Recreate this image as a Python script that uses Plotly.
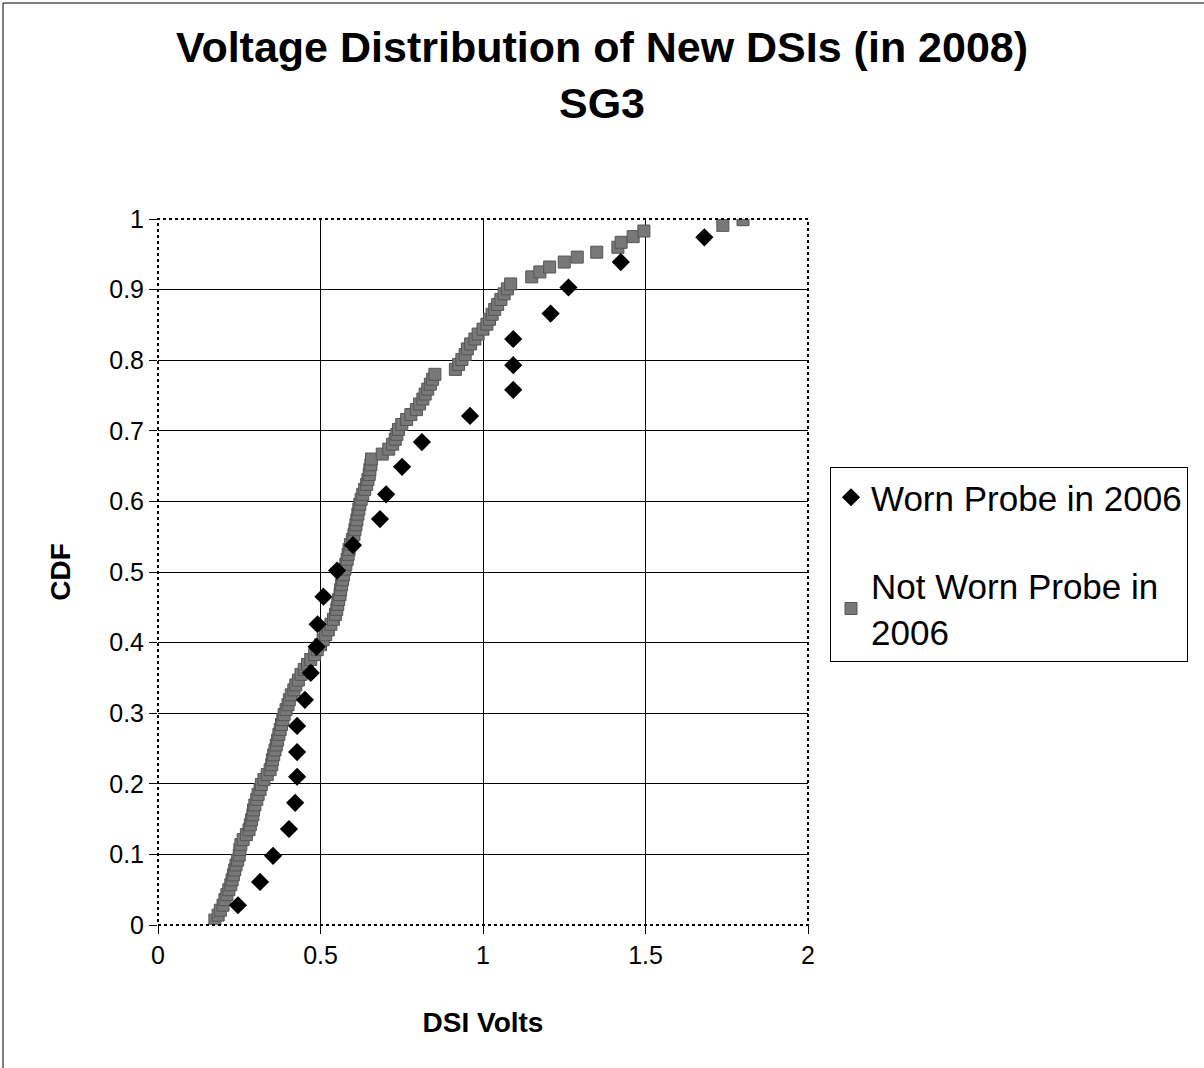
import plotly.graph_objects as go

# ---------------- data ----------------
worn_x = [0.246, 0.314, 0.354, 0.403, 0.422, 0.428, 0.428, 0.428, 0.452, 0.470,
          0.488, 0.491, 0.509, 0.551, 0.600, 0.683, 0.702, 0.751, 0.812, 0.960,
          1.093, 1.093, 1.093, 1.208, 1.263, 1.424, 1.681]
worn_y = [0.028, 0.061, 0.098, 0.136, 0.173, 0.210, 0.245, 0.282, 0.319, 0.357,
          0.394, 0.426, 0.465, 0.502, 0.538, 0.575, 0.610, 0.649, 0.684, 0.721,
          0.758, 0.793, 0.830, 0.866, 0.903, 0.939, 0.974]

notworn_x = [0.175, 0.185, 0.192, 0.200, 0.206, 0.212, 0.218, 0.224, 0.228, 0.232,
             0.236, 0.240, 0.245, 0.250, 0.252, 0.255, 0.262, 0.272, 0.280, 0.284,
             0.288, 0.292, 0.294, 0.298, 0.304, 0.308, 0.314, 0.318, 0.326, 0.336,
             0.345, 0.350, 0.352, 0.356, 0.360, 0.364, 0.368, 0.372, 0.376, 0.380,
             0.384, 0.388, 0.394, 0.400, 0.404, 0.410, 0.418, 0.424, 0.432, 0.440,
             0.450, 0.460, 0.470, 0.482, 0.490, 0.500, 0.508, 0.516, 0.524, 0.532,
             0.540, 0.546, 0.550, 0.553, 0.556, 0.560, 0.562, 0.565, 0.568, 0.571,
             0.575, 0.578, 0.582, 0.585, 0.588, 0.592, 0.598, 0.603, 0.606, 0.609,
             0.612, 0.615, 0.618, 0.621, 0.625, 0.630, 0.636, 0.642, 0.646, 0.650,
             0.652, 0.655, 0.657, 0.690, 0.710, 0.722, 0.730, 0.735, 0.740, 0.750,
             0.765, 0.778, 0.795, 0.805, 0.815, 0.822, 0.830, 0.838, 0.845, 0.852,
             0.915, 0.925, 0.935, 0.945, 0.952, 0.962, 0.975, 0.985, 1.000, 1.012,
             1.020, 1.028, 1.036, 1.045, 1.055, 1.065, 1.075, 1.085, 1.150, 1.175,
             1.205, 1.250, 1.290, 1.350, 1.415, 1.425, 1.462, 1.495, 1.738, 1.800]
notworn_y = [0.007, 0.014, 0.021, 0.028, 0.036, 0.043, 0.050, 0.057, 0.064, 0.071,
             0.078, 0.085, 0.092, 0.099, 0.107, 0.114, 0.121, 0.128, 0.135, 0.142,
             0.149, 0.156, 0.163, 0.170, 0.178, 0.185, 0.192, 0.199, 0.206, 0.213,
             0.220, 0.227, 0.234, 0.241, 0.248, 0.255, 0.262, 0.270, 0.277, 0.284,
             0.291, 0.298, 0.305, 0.312, 0.319, 0.326, 0.333, 0.340, 0.347, 0.355,
             0.362, 0.369, 0.376, 0.383, 0.390, 0.397, 0.404, 0.411, 0.418, 0.426,
             0.433, 0.440, 0.447, 0.454, 0.461, 0.468, 0.475, 0.482, 0.489, 0.496,
             0.504, 0.511, 0.518, 0.525, 0.532, 0.539, 0.546, 0.553, 0.560, 0.567,
             0.574, 0.582, 0.589, 0.596, 0.603, 0.610, 0.617, 0.624, 0.631, 0.638,
             0.645, 0.652, 0.660, 0.667, 0.674, 0.681, 0.688, 0.695, 0.702, 0.709,
             0.716, 0.723, 0.730, 0.738, 0.745, 0.752, 0.759, 0.766, 0.773, 0.780,
             0.787, 0.794, 0.801, 0.808, 0.816, 0.823, 0.830, 0.837, 0.844, 0.851,
             0.858, 0.865, 0.872, 0.879, 0.886, 0.894, 0.901, 0.908, 0.918, 0.925,
             0.932, 0.939, 0.946, 0.953, 0.960, 0.967, 0.975, 0.983, 0.991, 0.999]

series_names = ["Worn Probe in 2006", "Not Worn Probe in<br>2006"]
title_text = "Voltage Distribution of New DSIs (in 2008)<br>SG3"
x_title = "DSI Volts"
y_title = "CDF"

FONT = "Arial, Liberation Sans, sans-serif"

fig = go.Figure()

# Not worn: hatched-looking grey squares
fig.add_trace(go.Scatter(
    x=notworn_x, y=notworn_y, mode="markers", name=series_names[1],
    legendgroup="b", legendrank=2,
    marker=dict(symbol="square", size=12, color="#787878",
                line=dict(width=1, color="#555555")),
))
# Worn: black diamonds
fig.add_trace(go.Scatter(
    x=worn_x, y=worn_y, mode="markers", name=series_names[0],
    legendgroup="a", legendrank=1,
    marker=dict(symbol="diamond", size=14, color="black", line=dict(width=0)),
))

L, R, T, B = 158, 396, 219, 143
PW, PH = 1204 - L - R, 1068 - T - B

fig.update_layout(
    width=1204, height=1068,
    margin=dict(l=L, r=R, t=T, b=B, autoexpand=False),
    paper_bgcolor="white", plot_bgcolor="white",
    font=dict(family=FONT, color="black"),
    title=dict(text=title_text, x=0.5, xanchor="center", y=1 - 62 / 1068, yanchor="top",
               font=dict(size=43, family=FONT, color="black", weight="bold")),
    legend=dict(
        x=(830 - L) / PW, xanchor="left", y=(925 - 467) / PH, yanchor="top",
        bordercolor="black", borderwidth=1, bgcolor="white",
        font=dict(size=35, family=FONT, color="black"),
        tracegroupgap=40, itemsizing="trace",
    ),
    showlegend=True,
)

fig.update_xaxes(
    range=[0, 2], dtick=0.5, tick0=0,
    showgrid=True, gridcolor="black", gridwidth=1,
    zeroline=False, showline=False,
    ticks="outside", ticklen=8, tickcolor="black",
    tickfont=dict(size=25, family=FONT, color="black"),
    title=dict(text=x_title, standoff=44, font=dict(size=28, family=FONT, color="black", weight="bold")),
    automargin=False,
)
fig.update_yaxes(
    range=[0, 1], dtick=0.1, tick0=0,
    showgrid=True, gridcolor="black", gridwidth=1,
    zeroline=False, showline=False,
    ticks="outside", ticklen=8, tickcolor="black",
    tickfont=dict(size=25, family=FONT, color="black"),
    title=dict(text=y_title, standoff=30, font=dict(size=28, family=FONT, color="black", weight="bold")),
    automargin=False,
)

# plot-area border (dotted, as in the scan)
fig.add_shape(type="rect", xref="paper", yref="paper", x0=0, y0=0, x1=1, y1=1,
              line=dict(color="black", width=2, dash="dot"), layer="above")
# outer chart border (top and left edges visible)
fig.add_shape(type="line", xref="paper", yref="paper",
              x0=(3 - L) / PW, x1=(1204 - L) / PW, y0=(925 - 3) / PH, y1=(925 - 3) / PH,
              line=dict(color="black", width=1))
fig.add_shape(type="line", xref="paper", yref="paper",
              x0=(3 - L) / PW, x1=(3 - L) / PW, y0=(925 - 1068) / PH, y1=(925 - 3) / PH,
              line=dict(color="black", width=1))

fig.write_html("out.html")
